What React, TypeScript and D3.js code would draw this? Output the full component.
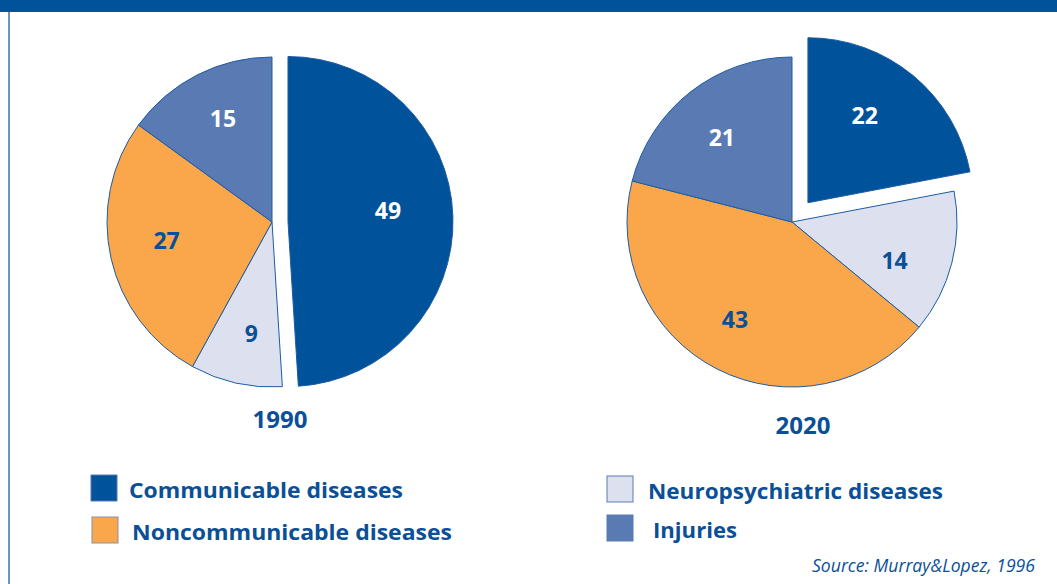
import * as d3 from 'd3';
import { useEffect, useRef } from 'react';

// clockwise order in each pie, starting at 12 o'clock
const sliceKeys = ['communicable', 'neuro', 'noncommunicable', 'injuries'];
const years = ['1990', '2020'];
const values1990 = [49, 9, 27, 15];
const values2020 = [22, 14, 43, 21];

const legendLabels = ['Communicable diseases', 'Noncommunicable diseases', 'Neuropsychiatric diseases', 'Injuries'];
const legendKeys = ['communicable', 'noncommunicable', 'neuro', 'injuries'];
const sourceText = 'Source: Murray&Lopez, 1996';

const colors: Record<string, string> = {
    communicable: '#00529b',
    neuro: '#dde1ef',
    noncommunicable: '#f9a74a',
    injuries: '#5a7ab4',
};
const labelColors: Record<string, string> = {
    communicable: '#ffffff',
    neuro: '#0b4f96',
    noncommunicable: '#0b4f96',
    injuries: '#ffffff',
};

const App = () => {
    const ref = useRef<SVGSVGElement>(null);

    useEffect(() => {
        const svg = d3.select(ref.current);
        svg.selectAll('*').remove();
        const width = 1057;
        const height = 584;
        const font = '"Open Sans", "DejaVu Sans", sans-serif';
        const blue = '#0b4f96';

        // frame: top band + left rule
        svg.append('rect').attr('x', 0).attr('y', 0).attr('width', width).attr('height', 12).attr('fill', '#00529b');
        svg.append('line')
            .attr('x1', 9).attr('x2', 9).attr('y1', 12).attr('y2', height)
            .attr('stroke', '#3d6eb0').attr('stroke-width', 1.5);

        const radius = 165;
        // label nudges follow the hand placement of the original
        const layout = [
            { cx: 272, cy: 222, explode: 16, yearX: 280, yearY: 418,
              nudge: [[-8, -8], [3, 6], [0, -6], [0, -8]] },
            { cx: 792, cy: 222, explode: 25, yearX: 803, yearY: 424,
              nudge: [[-12, -5], [-2, 11], [-8, 1], [-4, 0]] },
        ];
        const series = [values1990, values2020];

        const pie = d3.pie<number>().sort(null).value(d => d);
        const arc = d3.arc<d3.PieArcDatum<number>>().innerRadius(0).outerRadius(radius);
        const labelArc = d3.arc<d3.PieArcDatum<number>>().innerRadius(108 * 2).outerRadius(0);

        series.forEach((vals, i) => {
            const { cx, cy, explode, yearX, yearY, nudge } = layout[i];
            const arcs = pie(vals);
            const g = svg.append('g').attr('transform', `translate(${cx},${cy})`);

            const slice = g.selectAll('g.slice')
                .data(arcs)
                .enter().append('g')
                .attr('class', 'slice')
                .attr('transform', (d, j) => {
                    if (sliceKeys[j] !== 'communicable') return null;
                    const mid = (d.startAngle + d.endAngle) / 2;
                    return `translate(${Math.sin(mid) * explode},${-Math.cos(mid) * explode})`;
                });

            slice.append('path')
                .attr('d', arc)
                .attr('fill', (d, j) => colors[sliceKeys[j]])
                .attr('stroke', '#1d5ca3')
                .attr('stroke-width', 1)
                .attr('stroke-linejoin', 'round');

            slice.append('text')
                .attr('transform', (d, j) => {
                    const [x, y] = labelArc.centroid(d);
                    return `translate(${x + nudge[j][0]},${y + nudge[j][1]})`;
                })
                .attr('text-anchor', 'middle')
                .attr('dominant-baseline', 'central')
                .attr('font-family', font)
                .attr('font-weight', 700)
                .attr('font-size', 23)
                .attr('fill', (d, j) => labelColors[sliceKeys[j]])
                .text(d => d.data);

            svg.append('text')
                .attr('x', yearX).attr('y', yearY)
                .attr('text-anchor', 'middle')
                .attr('dominant-baseline', 'central')
                .attr('font-family', font)
                .attr('font-weight', 700)
                .attr('font-size', 24)
                .attr('fill', blue)
                .text(years[i]);
        });

        // legend
        const legendPos = [
            { x: 91, y: 475, tx: 129, tw: 274 },
            { x: 92, y: 517, tx: 132, tw: 320 },
            { x: 607, y: 476, tx: 648, tw: 295 },
            { x: 607, y: 515, tx: 653, tw: 84 },
        ];
        legendLabels.forEach((label, i) => {
            const p = legendPos[i];
            svg.append('rect')
                .attr('x', p.x).attr('y', p.y).attr('width', 26).attr('height', 26)
                .attr('fill', colors[legendKeys[i]])
                .attr('stroke', legendKeys[i] === 'noncommunicable' ? '#8a8fa8' : '#5a7ab4')
                .attr('stroke-width', 1);
            svg.append('text')
                .attr('x', p.tx).attr('y', p.y + 14)
                .attr('dominant-baseline', 'central')
                .attr('font-family', font)
                .attr('font-weight', 700)
                .attr('font-size', 22)
                .attr('fill', blue)
                .attr('textLength', p.tw)
                .attr('lengthAdjust', 'spacingAndGlyphs')
                .text(label);
        });

        svg.append('text')
            .attr('x', 812).attr('y', 565)
            .attr('dominant-baseline', 'central')
            .attr('font-family', font)
            .attr('font-style', 'italic')
            .attr('font-size', 18)
            .attr('fill', blue)
            .attr('textLength', 223)
            .attr('lengthAdjust', 'spacingAndGlyphs')
            .text(sourceText);
    }, []);

    return (
        <svg
            ref={ref}
            width={1057}
            height={584}
            style={{ position: 'absolute', left: 0, top: 0, background: '#ffffff' }}
        />
    );
};

export default App;
